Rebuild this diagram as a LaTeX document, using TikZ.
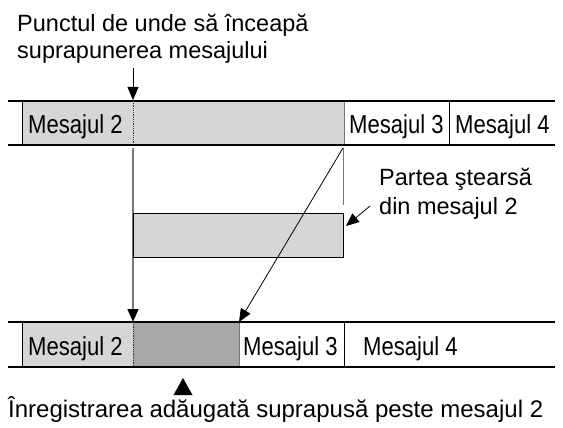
\documentclass[tikz,border=0pt]{standalone}
\usepackage{fontspec}
\setmainfont{Liberation Sans}
\newfontfamily\condfont[FakeStretch=0.85]{Liberation Sans}
\usetikzlibrary{arrows.meta}
\definecolor{lgray}{HTML}{D6D6D6}
\definecolor{dgray}{HTML}{A8A8A8}
\definecolor{mgray}{HTML}{777777}
\tikzset{
  lbl/.style={anchor=base west,inner sep=0pt,font=\fontsize{23.5}{28}\selectfont},
  msg/.style={anchor=base west,inner sep=0pt,font=\condfont\fontsize{26}{30}\selectfont},
  rail/.style={line width=1.2pt,black},
  sep/.style={line width=0.8pt,black},
  dotline/.style={line width=0.8pt,densely dotted,black!80},
  bigarrow/.style={-{Triangle[width=11pt,length=13pt]}},
  thin/.style={line width=0.8pt,black},
  grayline/.style={line width=1.2pt,mgray},
}
\begin{document}
\begin{tikzpicture}[x=1pt,y=-1pt]
\useasboundingbox (0,0) rectangle (563,428);
% top text
\node[lbl] (t1) at (17,32) {Punctul de unde să înceapă};
\node[lbl] (t2) at (17,59) {suprapunerea mesajului};
% top strip
\fill[lgray] (22.5,101) rectangle (344,145);
\draw[sep] (22.5,101) -- (22.5,145);
\draw[grayline,line width=0.8pt] (344,101) -- (344,145);
\draw[sep] (449,101) -- (449,145);
\draw[rail] (8,101) -- (555,101);
\draw[rail] (8,145) -- (555,145);
\draw[dotline] (133,101) -- (133,145);
\node[msg] (m2a) at (28,133) {Mesajul 2};
\node[msg] (m3a) at (349,133) {Mesajul 3};
\node[msg] (m4a) at (455,133) {Mesajul 4};
% coordinates
\coordinate (p0) at (133,68);
\coordinate (p1) at (133,100);
\coordinate (p2) at (133,148);
\coordinate (p3) at (133,322);
\coordinate (q0) at (343,148);
\coordinate (q1) at (343,205);
\coordinate (q2) at (239,322);
\draw[thin,bigarrow] (p0) -- (p1);
\draw[grayline,-{Triangle[width=11pt,length=13pt,color=black]}] (p2) -- (p3);
\draw[grayline,line width=1pt] (q0) -- (q1);
% middle box
\node[draw=black,line width=1pt,fill=lgray,minimum width=210pt,minimum height=44pt,inner sep=0pt,anchor=north west] (mid) at (133,213) {};
\draw[thin,bigarrow] (q0) -- (q2);
% annotation
\node[lbl] (a1) at (379,185) {Partea ştearsă};
\node[lbl] (a2) at (379,214) {din mesajul 2};
\coordinate (r0) at (370,206);
\coordinate (r1) at (346,226);
\draw[thin,bigarrow] (r0) -- (r1);
% bottom strip
\fill[lgray] (22.5,322) rectangle (133,367);
\fill[dgray] (133,322) rectangle (239,367);
\draw[sep] (22.5,322) -- (22.5,367);
\draw[sep,mgray] (239,322) -- (239,367);
\draw[sep] (344,322) -- (344,367);
\draw[rail] (8,322) -- (555,322);
\draw[rail] (8,367) -- (555,367);
\draw[dotline] (133,322) -- (133,367);
\node[msg] (m2b) at (28,355) {Mesajul 2};
\node[msg] (m3b) at (243,355) {Mesajul 3};
\node[msg] (m4b) at (363,355) {Mesajul 4};
% triangle marker
\fill[black] (173.5,395) -- (183,378) -- (192.5,395) -- cycle;
\node[lbl,font=\fontsize{24}{28}\selectfont] (bt) at (8,417) {Înregistrarea adăugată suprapusă peste mesajul 2};
\end{tikzpicture}
\end{document}
